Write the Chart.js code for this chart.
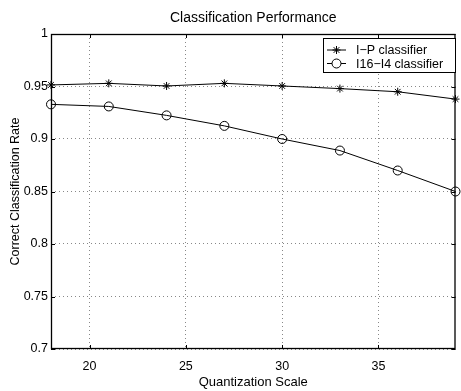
<!DOCTYPE html>
<html>
<head>
<meta charset="utf-8">
<script src="https://cdn.jsdelivr.net/npm/chart.js@4"></script>
<style>
  html, body { margin: 0; padding: 0; background: #fff; }
  #wrap { width: 461px; height: 391px; }
</style>
</head>
<body>
<div id="wrap"><canvas id="chart" width="461" height="391"></canvas></div>
<script>
// data
const quantScale = [18, 21, 24, 27, 30, 33, 36, 39];
const ipRate = [0.9515, 0.953, 0.9505, 0.953, 0.9505, 0.948, 0.945, 0.938];
const i16i4Rate = [0.933, 0.931, 0.9225, 0.9125, 0.900, 0.889, 0.870, 0.850];
const xTicks = [20, 25, 30, 35];
const yTicks = [0.7, 0.75, 0.8, 0.85, 0.9, 0.95, 1];
const seriesNames = ['I\u2212P classifier', 'I16\u2212I4 classifier'];

const FONT = 'Helvetica, "Liberation Sans", Arial, sans-serif';

//title, box, inward ticks and legend, drawn like matlab does
const matlabPlugin = {
    id: 'matlab',
    afterDraw(chart) {
        const ctx = chart.ctx;
        const a = chart.chartArea;
        const xs = chart.scales.x;
        const ys = chart.scales.y;
        ctx.save();
        ctx.setLineDash([]);

        //axes box
        ctx.strokeStyle = '#000';
        ctx.lineWidth = 1.3;
        ctx.strokeRect(a.left + 0.5, a.top + 0.5, a.right - a.left - 1, a.bottom - a.top - 1);
        ctx.lineWidth = 1;

        //inward ticks
        ctx.beginPath();
        xTicks.forEach(v => {
            const px = Math.round(xs.getPixelForValue(v)) + 0.5;
            ctx.moveTo(px, a.bottom); ctx.lineTo(px, a.bottom - 4);
            ctx.moveTo(px, a.top); ctx.lineTo(px, a.top + 4);
        });
        yTicks.forEach(v => {
            const py = Math.round(ys.getPixelForValue(v)) + 0.5;
            ctx.moveTo(a.left, py); ctx.lineTo(a.left + 4, py);
            ctx.moveTo(a.right, py); ctx.lineTo(a.right - 4, py);
        });
        ctx.stroke();

        //title
        ctx.fillStyle = '#000';
        ctx.font = '14px ' + FONT;
        ctx.textAlign = 'center';
        ctx.textBaseline = 'middle';
        ctx.fillText('Classification Performance', (a.left + a.right) / 2, 18);

        //legend
        const lx = 323, ly = 38, lw = 132, lh = 34;
        ctx.fillStyle = '#fff';
        ctx.fillRect(lx, ly, lw, lh);
        ctx.strokeStyle = '#000';
        ctx.strokeRect(lx + 0.5, ly + 0.5, lw, lh);
        ctx.font = '12.5px ' + FONT;
        ctx.textAlign = 'left';
        chart.data.datasets.forEach((ds, i) => {
            const ry = 50 + i * 13.5;
            ctx.beginPath();
            ctx.moveTo(327, ry); ctx.lineTo(346, ry);
            ctx.stroke();
            ctx.fillStyle = '#fff';
            Chart.helpers.drawPoint(ctx, {
                pointStyle: ds.pointStyle,
                radius: ds.pointRadius,
                rotation: 0,
                borderWidth: 1
            }, 336.5, ry);
            ctx.fillStyle = '#000';
            ctx.fillText(ds.label, 356, ry + 1);
        });
        ctx.restore();
    }
};

new Chart(document.getElementById('chart'), {
    type: 'line',
    data: {
        labels: quantScale,
        datasets: [{
            label: seriesNames[0],
            data: quantScale.map((x, i) => ({ x: x, y: ipRate[i] })),
            borderColor: '#000',
            backgroundColor: 'transparent',
            borderWidth: 1,
            pointStyle: 'star',
            pointRadius: 4,
            pointBorderColor: '#000',
            pointBorderWidth: 1,
            tension: 0,
            clip: 6
        }, {
            label: seriesNames[1],
            data: quantScale.map((x, i) => ({ x: x, y: i16i4Rate[i] })),
            borderColor: '#000',
            backgroundColor: 'transparent',
            borderWidth: 1,
            pointStyle: 'circle',
            pointRadius: 4.5,
            pointBackgroundColor: 'transparent',
            pointBorderColor: '#000',
            pointBorderWidth: 1,
            tension: 0,
            clip: 6
        }]
    },
    options: {
        responsive: false,
        animation: false,
        layout: { padding: { top: 34, right: 1, left: 0, bottom: 0 } },
        plugins: {
            legend: { display: false },
            title: { display: false },
            tooltip: { enabled: false }
        },
        scales: {
            x: {
                type: 'linear',
                min: 18,
                max: 39,
                afterFit: scale => { scale.height = 42; },
                afterBuildTicks: scale => { scale.ticks = xTicks.map(v => ({ value: v })); },
                border: { display: false, dash: [1, 3] },
                grid: {
                    color: '#888',
                    lineWidth: 1,
                    drawTicks: false
                },
                ticks: {
                    color: '#000',
                    padding: 10,
                    font: { family: FONT, size: 12.5 },
                    maxRotation: 0
                },
                title: {
                    display: true,
                    text: 'Quantization Scale',
                    color: '#000',
                    font: { family: FONT, size: 13 },
                    padding: { top: 0, bottom: 1 }
                }
            },
            y: {
                min: 0.7,
                max: 1,
                afterFit: scale => { scale.width = 51; },
                afterBuildTicks: scale => { scale.ticks = yTicks.map(v => ({ value: v })); },
                border: { display: false, dash: [1, 3] },
                grid: {
                    color: '#888',
                    lineWidth: 1,
                    drawTicks: false
                },
                ticks: {
                    color: '#000',
                    padding: 3,
                    font: { family: FONT, size: 12.5 },
                    callback: v => String(Math.round(v * 100) / 100)
                },
                title: {
                    display: true,
                    text: 'Correct Classification Rate',
                    color: '#000',
                    font: { family: FONT, size: 12.5 },
                    padding: { top: 8, bottom: 0 }
                }
            }
        }
    },
    plugins: [matlabPlugin]
});
</script>
</body>
</html>
